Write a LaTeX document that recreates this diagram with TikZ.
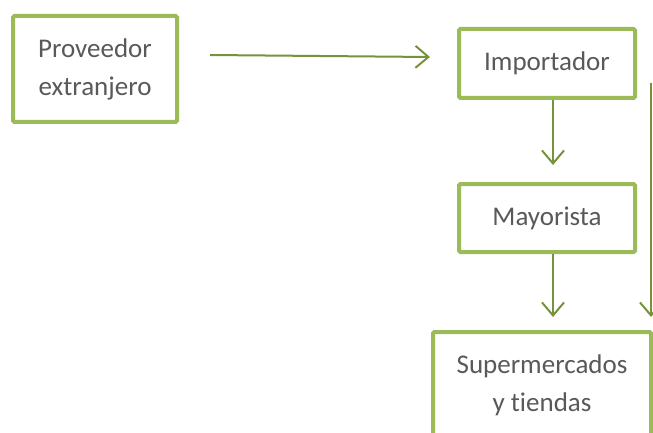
\documentclass[tikz,border=0pt]{standalone}
\usepackage{fontspec}
\setmainfont{Carlito}[Ligatures={NoCommon}]
\usepackage{tikz}
\usetikzlibrary{
  arrows.meta,
  positioning
}
\definecolor{boxgreen}{RGB}{155,187,89}
\definecolor{flowolive}{RGB}{118,146,60}
\definecolor{labelgray}{RGB}{89,89,89}
\tikzset{
  chainbox/.style={draw=boxgreen, line width=4pt, rounded corners=1.5pt,
    fill=white, align=center, text=labelgray, inner sep=0pt,
    font=\fontsize{27}{38}\selectfont},
  flow/.style={draw=flowolive, line width=2pt,
    -{Straight Barb[length=13pt, width=22pt]}},
}

\begin{document}
\begin{tikzpicture}[x=1pt, y=1pt]
  \useasboundingbox (0,0) rectangle (653,-433);
  \clip (0,0) rectangle (653,-433);

  % Source and importer
  \node[chainbox, minimum width=164pt, minimum height=106pt] (prov) at (95,-69)
    {Proveedor\\extranjero};
  \node[chainbox, minimum width=176pt, minimum height=69pt] (imp) at (547,-63.5)
    {Importador};

  % Distribution chain
  \node[chainbox, minimum width=176pt, minimum height=68pt, below=82pt of imp] (may)
    {Mayorista};
  \node[chainbox, minimum width=218pt, minimum height=106pt,
        below=76pt of may, xshift=-5pt] (sup)
    {Supermercados\\y tiendas};
  \coordinate (side) at (651,-83);

  % Arrows
  \draw[flow] ([xshift=31pt, yshift=14pt]prov.east) -- ([xshift=-27pt, yshift=6.5pt]imp.west);
  \draw[flow, shorten >=17pt] ([xshift=6pt]imp.south) -- ([xshift=6pt]may.north);
  \draw[flow, shorten >=13pt] ([xshift=6pt]may.south) -- ([xshift=11pt]sup.north);
  \draw[flow, shorten >=13pt] (side) -- (side |- sup.north);
\end{tikzpicture}
\end{document}
